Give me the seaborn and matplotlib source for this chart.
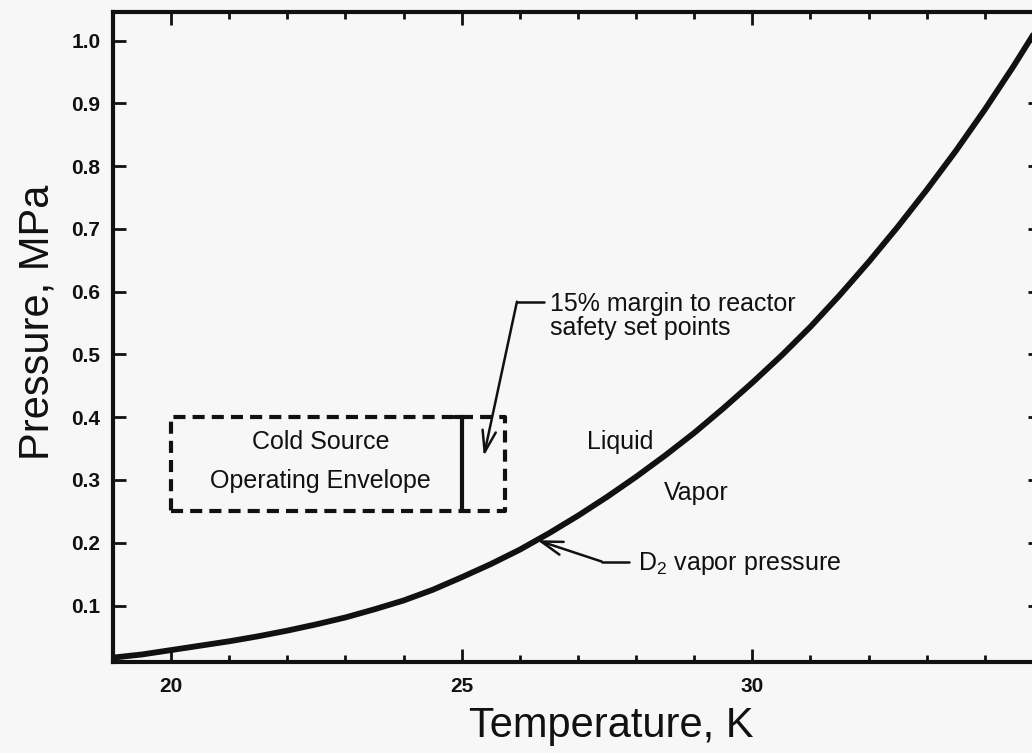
import numpy as np
import pandas as pd
import matplotlib
matplotlib.use("Agg")
import matplotlib.pyplot as plt
from matplotlib.ticker import MultipleLocator, FixedLocator
import seaborn as sns

# ---- data ----
temperature_K = [19.0, 19.5, 20.0, 20.5, 21.0, 21.5, 22.0, 22.5, 23.0, 23.5,
                 24.0, 24.5, 25.0, 25.5, 26.0, 26.5, 27.0, 27.5, 28.0, 28.5,
                 29.0, 29.5, 30.0, 30.5, 31.0, 31.5, 32.0, 32.5, 33.0, 33.5,
                 34.0, 34.5, 35.0]
pressure_MPa = [0.017, 0.022, 0.029, 0.036, 0.043, 0.051, 0.060, 0.070, 0.081, 0.094,
                0.108, 0.125, 0.145, 0.166, 0.189, 0.215, 0.243, 0.273, 0.305, 0.339,
                0.375, 0.414, 0.455, 0.498, 0.544, 0.594, 0.647, 0.703, 0.762, 0.824,
                0.890, 0.960, 1.034]

envelope_T = [20.0, 25.75]        # dashed box (incl. 15% margin)
envelope_P = [0.25, 0.40]
setpoint_T = 25.0                 # solid bar = operating limit
x_major = [20, 25, 30]
y_major = [0.1, 0.2, 0.3, 0.4, 0.5, 0.6, 0.7, 0.8, 0.9, 1.0]
y_labels = ["0.1", "0.2", "0.3", "0.4", "0.5", "0.6", "0.7", "0.8", "0.9", "1.0"]

df = pd.DataFrame({"T": temperature_K, "P": pressure_MPa})

sns.set_style("ticks")
plt.rcParams["font.family"] = ["Liberation Sans", "DejaVu Sans"]
plt.rcParams["mathtext.fontset"] = "custom"
plt.rcParams["mathtext.rm"] = "Liberation Sans"
plt.rcParams["mathtext.it"] = "Liberation Sans:italic"

BG = "#f7f7f7"
INK = "#111111"
W, H = 1032, 753
fig = plt.figure(figsize=(W / 100, H / 100), dpi=100, facecolor=BG)
ax_l, ax_r, ax_t, ax_b = 113, 1040, 11.7, 662
ax = fig.add_axes([ax_l / W, (H - ax_b) / H, (ax_r - ax_l) / W, (ax_b - ax_t) / H])
ax.set_facecolor(BG)

sns.lineplot(data=df, x="T", y="P", ax=ax, color=INK, linewidth=4.2, sort=True,
             estimator=None, legend=False)
ax.lines[-1].set_solid_joinstyle("round")

ax.set_xlim(19.0, 34.95)
ax.set_ylim(0.01, 1.046)

# dashed operating envelope
x0, x1 = envelope_T
y0, y1 = envelope_P
ax.plot([x0, x1, x1, x0, x0], [y0, y0, y1, y1, y0], color=INK, lw=3.0,
        dashes=(2.9, 1.7), solid_capstyle="butt")
ax.plot([setpoint_T, setpoint_T], [y0, y1], color=INK, lw=3.0)
ax.plot([setpoint_T - 0.12, setpoint_T + 0.05], [y1, y1], color=INK, lw=3.0)

arrow_style = "->,head_length=0.7,head_width=0.22"

# texts
fs = 18
ax.text(22.57, 0.350, "Cold Source", ha="center", va="baseline", fontsize=fs, color=INK)
ax.text(22.56, 0.287, "Operating Envelope", ha="center", va="baseline", fontsize=fs, color=INK)
ax.text(27.72, 0.350, "Liquid", ha="center", va="baseline", fontsize=fs, color=INK)
ax.text(29.04, 0.268, "Vapor", ha="center", va="baseline", fontsize=fs, color=INK)

ax.text(26.52, 0.531, "15% margin to reactor\nsafety set points", ha="left",
        va="baseline", fontsize=fs, color=INK, linespacing=1.0)
ax.plot([26.42, 25.95], [0.584, 0.584], color=INK, lw=1.8)
ax.annotate("", xy=(25.38, 0.338), xytext=(25.95, 0.584),
            arrowprops=dict(arrowstyle=arrow_style, color=INK, lw=1.8, mutation_scale=22,
                            shrinkA=0, shrinkB=0))

ax.text(28.03, 0.1565, r"D$_\mathregular{2}$ vapor pressure", ha="left", va="baseline",
        fontsize=fs, color=INK)
ax.plot([27.87, 27.41], [0.170, 0.170], color=INK, lw=1.8)
ax.annotate("", xy=(26.30, 0.204), xytext=(27.41, 0.170),
            arrowprops=dict(arrowstyle=arrow_style, color=INK, lw=1.8, mutation_scale=22,
                            shrinkA=0, shrinkB=0))

# axes styling
for s in ax.spines.values():
    s.set_visible(True)
    s.set_linewidth(3.0)
    s.set_color(INK)

ax.xaxis.set_major_locator(FixedLocator(x_major))
ax.xaxis.set_minor_locator(MultipleLocator(1))
ax.yaxis.set_major_locator(FixedLocator(y_major))
ax.set_xticklabels([str(v) for v in x_major])
ax.set_yticklabels(y_labels)
ax.tick_params(axis="both", which="both", direction="in", top=True, right=True,
               color=INK, width=2.0)
ax.tick_params(axis="x", which="major", length=9.5, pad=10.5, labelsize=15)
ax.tick_params(axis="x", which="minor", length=5)
ax.tick_params(axis="y", which="major", length=9, pad=9, labelsize=15)
for lab in ax.get_xticklabels() + ax.get_yticklabels():
    lab.set_fontweight("bold")
    lab.set_color(INK)

ax.set_xlabel("Temperature, K", fontsize=30, color=INK)
ax.set_ylabel("Pressure, MPa", fontsize=30, color=INK)
ax.xaxis.set_label_coords((611 - ax_l) / (ax_r - ax_l), (ax_b - 706) / (ax_b - ax_t))
ax.yaxis.set_label_coords((58 - ax_l) / (ax_r - ax_l), (ax_b - 322) / (ax_b - ax_t))

fig.savefig("out.png", dpi=100, facecolor=BG)
